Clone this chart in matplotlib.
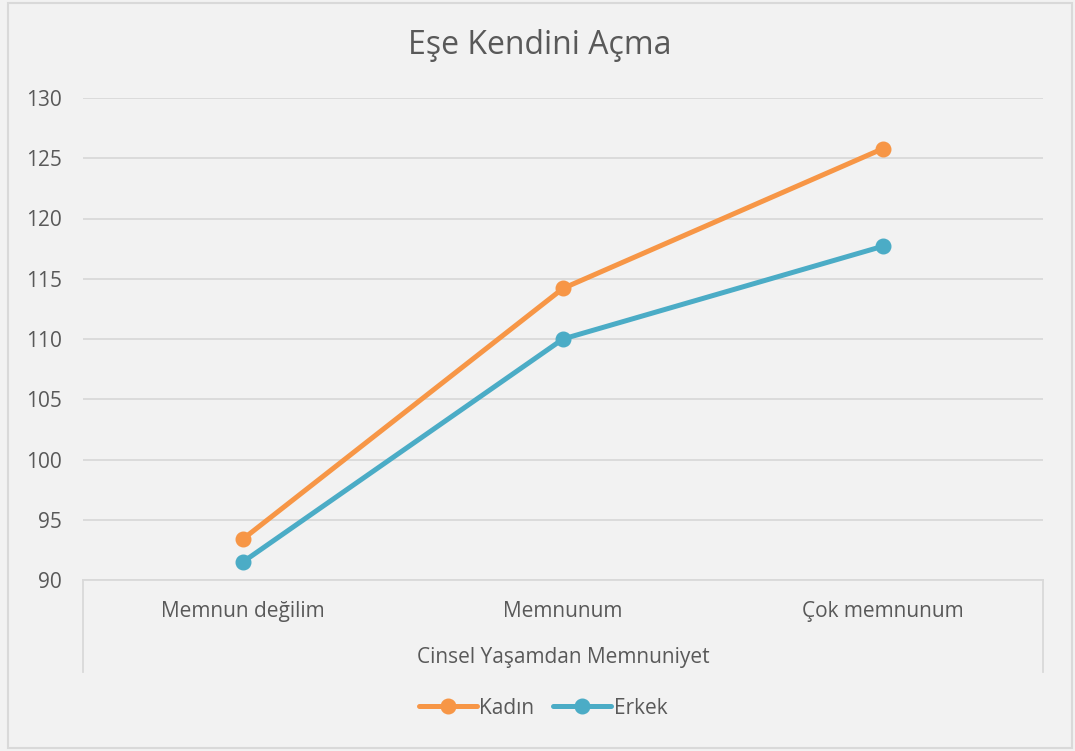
import matplotlib.pyplot as plt
from matplotlib.patches import Rectangle

categories = ['Memnun değilim', 'Memnunum', 'Çok memnunum']
kadin = [93.4, 114.2, 125.8]
erkek = [91.5, 110.0, 117.7]
yticks = [90, 95, 100, 105, 110, 115, 120, 125, 130]

TXT = '#595959'
GRID = '#D9D9D9'
BG = '#F2F2F2'
ORANGE = '#F79646'
BLUE = '#4BACC6'

plt.rcParams['font.family'] = ['Open Sans', 'DejaVu Sans']

W, H = 1075, 751
fig = plt.figure(figsize=(W / 100, H / 100), dpi=100, facecolor=BG)
ax = fig.add_axes([83 / W, (H - 580) / H, (1043 - 83) / W, (580 - 98) / H])
ax.set_facecolor(BG)

# outer chart border
fig.patches.append(Rectangle((8 / W, 3 / H), (1072 - 8) / W, (748 - 3) / H,
                             transform=fig.transFigure, fill=False,
                             edgecolor=GRID, linewidth=1.5))

x = range(len(categories))
ax.plot(x, kadin, color=ORANGE, lw=3.6, marker='o', ms=10.5, label='Kadın',
        solid_capstyle='round', clip_on=False, zorder=3)
ax.plot(x, erkek, color=BLUE, lw=3.6, marker='o', ms=10.5, label='Erkek',
        solid_capstyle='round', clip_on=False, zorder=3)

ax.set_xlim(-0.5, len(categories) - 0.5)
ax.set_ylim(90, 130)
ax.set_yticks(yticks)
ax.set_xticks(list(x))
ax.set_xticklabels(categories)
ax.tick_params(axis='both', length=0, labelcolor=TXT, labelsize=15)
ax.tick_params(axis='y', pad=15)
ax.tick_params(axis='x', pad=15)
ax.yaxis.grid(True, color=GRID, lw=1.3)
ax.set_axisbelow(True)
for s in ['top', 'left', 'right']:
    ax.spines[s].set_visible(False)
ax.spines['bottom'].set_color(GRID)
ax.spines['bottom'].set_linewidth(1.3)

# category separators below the axis
depth = (672 - 580) / (580 - 98)
for xs in [0, 1]:
    ax.plot([xs, xs], [0, -depth], transform=ax.transAxes, color=GRID,
            lw=1.3, clip_on=False)

fig.text(563 / W, (H - 658) / H, 'Cinsel Yaşamdan Memnuniyet', ha='center',
         va='center', color=TXT, fontsize=15)
fig.text(540 / W, (H - 45) / H, 'Eşe Kendini Açma', ha='center', va='center',
         color=TXT, fontsize=23)

leg = fig.legend(loc='center', bbox_to_anchor=(543 / W, (H - 708) / H), ncol=2,
                 frameon=False, fontsize=15, handlelength=2.8,
                 handletextpad=0.1, columnspacing=0.9)
for t in leg.get_texts():
    t.set_color(TXT)

fig.savefig('out.png', dpi=100, facecolor=BG)
